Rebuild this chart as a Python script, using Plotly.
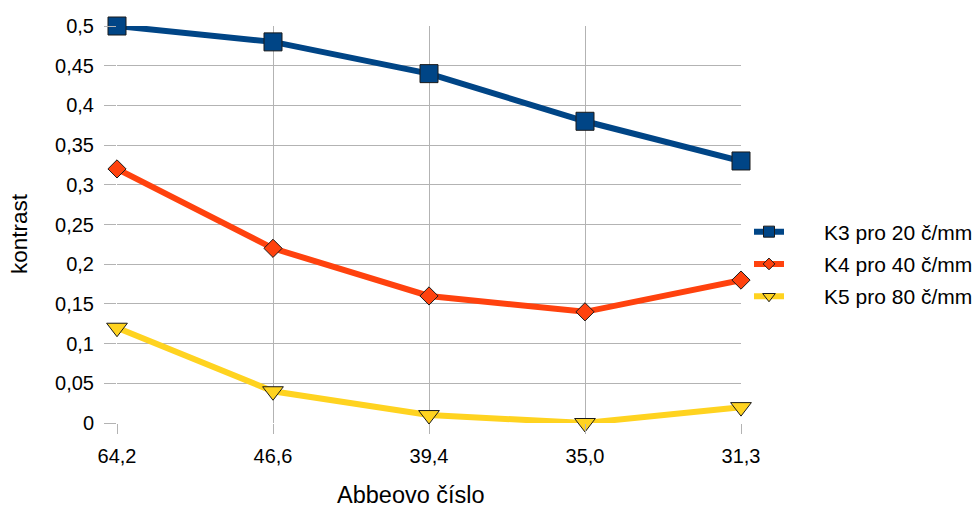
import plotly.graph_objects as go

categories = ["64,2", "46,6", "39,4", "35,0", "31,3"]
k3 = [0.50, 0.48, 0.44, 0.38, 0.33]
k4 = [0.32, 0.22, 0.16, 0.14, 0.18]
k5 = [0.12, 0.04, 0.01, 0.00, 0.02]
names = ["K3 pro 20 č/mm", "K4 pro 40 č/mm", "K5 pro 80 č/mm"]
colors = ["#004586", "#ff420e", "#ffd320"]
symbols = ["square", "diamond", "triangle-down"]
sizes = [18, 14, 18]
legend_sizes = [11, 9, 11]
yticks = [0, 0.05, 0.1, 0.15, 0.2, 0.25, 0.3, 0.35, 0.4, 0.45, 0.5]
ytick_labels = ["0", "0,05", "0,1", "0,15", "0,2", "0,25", "0,3", "0,35", "0,4", "0,45", "0,5"]
x_title = "Abbeovo číslo"
y_title = "kontrast"

W, H = 974, 507
L, R, T, B = 117, 233, 26, 84
PW, PH = W - L - R, H - T - B

xs = list(range(len(categories)))
fig = go.Figure()
for i, (vals, nm, c, s, sz, lsz) in enumerate(zip([k3, k4, k5], names, colors, symbols, sizes, legend_sizes)):
    fig.add_trace(go.Scatter(
        x=xs, y=vals, name=nm, mode="lines+markers", showlegend=False,
        line=dict(color=c, width=6),
        marker=dict(symbol=s, size=sz, color=c, line=dict(color="#1a1a1a", width=1)),
        cliponaxis=False,
    ))
    # legend-only entry with smaller symbol
    fig.add_trace(go.Scatter(
        x=[None], y=[None], name="\u00a0" * 6 + nm, mode="lines+markers",
        legendgroup=f"g{i}",
        line=dict(color=c, width=6),
        marker=dict(symbol=s, size=lsz, color=c, line=dict(color="#1a1a1a", width=1)),
    ))

font = "Liberation Sans, Arial, sans-serif"
fig.update_layout(
    width=W, height=H,
    margin=dict(l=L, r=R, t=T, b=B, autoexpand=False),
    paper_bgcolor="white", plot_bgcolor="white",
    font=dict(family=font, size=20, color="black"),
    showlegend=True,
    legend=dict(x=1.0 + 8 / PW, xanchor="left", y=(H - B - 264) / PH, yanchor="middle",
                font=dict(size=21), tracegroupgap=2, itemwidth=30,
                bgcolor="rgba(0,0,0,0)"),
    xaxis=dict(
        range=[0, 4], tickmode="array", tickvals=xs, ticktext=categories,
        showgrid=True, gridcolor="#b3b3b3", gridwidth=1,
        ticks="outside", ticklen=10, tickcolor="#b3b3b3",
        ticklabelstandoff=5, automargin=False,
        showline=False, zeroline=False,
    ),
    yaxis=dict(
        range=[0, 0.5], tickmode="array", tickvals=yticks, ticktext=ytick_labels,
        showgrid=True, gridcolor="#b3b3b3", gridwidth=1,
        ticks="outside", ticklen=12, tickcolor="#b3b3b3",
        ticklabelstandoff=6, automargin=False,
        showline=False, zeroline=False,
    ),
    annotations=[
        dict(text=x_title, xref="paper", yref="paper",
             x=(411 - L) / PW, y=-(495 - (H - B)) / PH,
             xanchor="center", yanchor="middle", showarrow=False,
             font=dict(size=23.5)),
        dict(text=y_title, xref="paper", yref="paper",
             x=-(L - 19) / PW, y=((H - B) - 234) / PH,
             xanchor="center", yanchor="middle", showarrow=False,
             textangle=-90, font=dict(size=22.5)),
    ],
)
fig.write_html("out.html", config={"displayModeBar": False},
               post_script="document.body.style.margin='0';")
